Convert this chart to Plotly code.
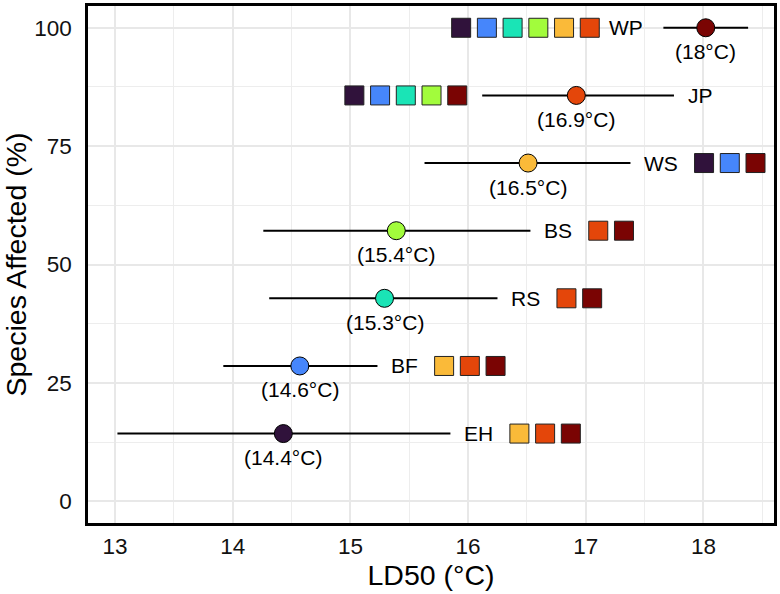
import plotly.graph_objects as go

# ---- data ----
species = ["EH", "BF", "RS", "BS", "WS", "JP", "WP"]
ld50 = [14.43, 14.57, 15.29, 15.39, 16.51, 16.92, 18.02]
ld50_lo = [13.02, 13.92, 14.31, 14.26, 15.63, 16.12, 17.66]
ld50_hi = [15.85, 15.23, 16.25, 16.53, 17.38, 17.75, 18.38]
temp_labels = ["(14.4°C)", "(14.6°C)", "(15.3°C)", "(15.4°C)", "(16.5°C)", "(16.9°C)", "(18°C)"]
pct_affected = [14.29, 28.57, 42.86, 57.14, 71.43, 85.71, 100.0]
affected = [
    ["WS", "JP", "WP"],
    ["WS", "JP", "WP"],
    ["JP", "WP"],
    ["JP", "WP"],
    ["EH", "BF", "WP"],
    ["EH", "BF", "RS", "BS", "WP"],
    ["EH", "BF", "RS", "BS", "WS", "JP"],
]
colors = ["#30123B", "#4686FB", "#1AE4B6", "#A2FC3C", "#FABA39", "#E4460A", "#7A0403"]
x_ticks = [13, 14, 15, 16, 17, 18]
y_ticks = [0, 25, 50, 75, 100]

# ---- layout / style constants ----
W, H = 780, 594
ML, MR, MT, MB = 88, 4, 3, 71
XR = [12.77, 18.60]
YR = [-4.6, 104.6]
FONT = "Liberation Sans, Arial, sans-serif"
FS = 21            # in-plot text
FS_TICK = 22.5
FS_TITLE = 28.5
label_side = ["right"] * 6 + ["left"]
square_side = ["right"] * 5 + ["left", "left"]
SQ = 20          # square size px
SQ_STEP = 25.8   # px
GAP_TXT = 15     # bar end -> text
GAP_SQ = 15      # text -> squares

px_per_unit = (W - ML - MR) / (XR[1] - XR[0])
cmap = dict(zip(species, colors))

# Arial (Liberation Sans) advance widths in em
CW = {"W": 0.944, "S": 0.667, "B": 0.667, "R": 0.722, "E": 0.667, "H": 0.722,
      "F": 0.611, "J": 0.5, "P": 0.667}


def text_w(s):
    return sum(CW.get(c, 0.6) for c in s) * FS


fig = go.Figure()

# error bars + points
fig.add_trace(go.Scatter(
    x=ld50, y=pct_affected, mode="markers",
    marker=dict(size=18, color=colors, line=dict(color="black", width=1)),
    error_x=dict(type="data", symmetric=False,
                 array=[h - m for h, m in zip(ld50_hi, ld50)],
                 arrayminus=[m - l for m, l in zip(ld50, ld50_lo)],
                 width=0, thickness=2, color="black"),
    showlegend=False, hoverinfo="skip",
))

annotations = []
sq_x, sq_y, sq_c = [], [], []
for i, sp in enumerate(species):
    y = pct_affected[i]
    annotations.append(dict(x=ld50[i], y=y, text=temp_labels[i], showarrow=False,
                            yshift=-24, font=dict(size=FS, color="black", family=FONT)))
    tw = text_w(sp)
    if label_side[i] == "right":
        annotations.append(dict(x=ld50_hi[i], y=y, text=sp, showarrow=False, xanchor="left",
                                xshift=GAP_TXT - 3, font=dict(size=FS, color="black", family=FONT)))
        txt_right_px = GAP_TXT + tw
        txt_left_px = None
    else:
        annotations.append(dict(x=ld50_lo[i], y=y, text=sp, showarrow=False, xanchor="right",
                                xshift=-GAP_TXT - 3, font=dict(size=FS, color="black", family=FONT)))
        txt_left_px = -(GAP_TXT + tw)
    n = len(affected[i])
    for k, a in enumerate(affected[i]):
        if square_side[i] == "right":
            off = txt_right_px + GAP_SQ + SQ / 2 + k * SQ_STEP
            base = ld50_hi[i]
        else:
            if label_side[i] == "left":
                start = txt_left_px - GAP_SQ - SQ / 2
            else:
                start = -GAP_TXT - SQ / 2
            off = start - (n - 1 - k) * SQ_STEP
            base = ld50_lo[i]
        sq_x.append(base + off / px_per_unit)
        sq_y.append(y)
        sq_c.append(cmap[a])

fig.add_trace(go.Scatter(
    x=sq_x, y=sq_y, mode="markers",
    marker=dict(symbol="square", size=SQ - 1, color=sq_c, line=dict(color="#222222", width=1)),
    showlegend=False, hoverinfo="skip",
))

fig.update_layout(
    width=W, height=H,
    margin=dict(l=ML, r=MR, t=MT, b=MB),
    paper_bgcolor="white", plot_bgcolor="white",
    font=dict(family=FONT, size=FS, color="black"),
    annotations=annotations,
)
fig.update_xaxes(
    range=XR, tickvals=x_ticks, ticktext=[str(t) for t in x_ticks],
    showgrid=True, gridcolor="#E8E8E8", gridwidth=1.5,
    minor=dict(dtick=0.5, tick0=12.5, showgrid=True, gridcolor="#EDEDED", gridwidth=0.9),
    showline=True, linecolor="black", linewidth=2.5, mirror=True,
    ticks="outside", ticklen=1, tickcolor="rgba(0,0,0,0)",
    zeroline=False,
    title=dict(text="LD50 (°C)", font=dict(size=FS_TITLE, family=FONT), standoff=1),
    tickfont=dict(size=FS_TICK, family=FONT, color="#111111"),
)
fig.update_yaxes(
    range=YR, tickvals=y_ticks, ticktext=[str(t) for t in y_ticks],
    showgrid=True, gridcolor="#E8E8E8", gridwidth=1.5,
    minor=dict(dtick=12.5, tick0=0, showgrid=True, gridcolor="#EDEDED", gridwidth=0.9),
    showline=True, linecolor="black", linewidth=2.5, mirror=True,
    ticks="outside", ticklen=9, tickcolor="rgba(0,0,0,0)",
    zeroline=False,
    title=dict(text="Species Affected (%)", font=dict(size=FS_TITLE, family=FONT), standoff=5),
    tickfont=dict(size=FS_TICK, family=FONT, color="#111111"),
)

fig.write_html("out.html")
